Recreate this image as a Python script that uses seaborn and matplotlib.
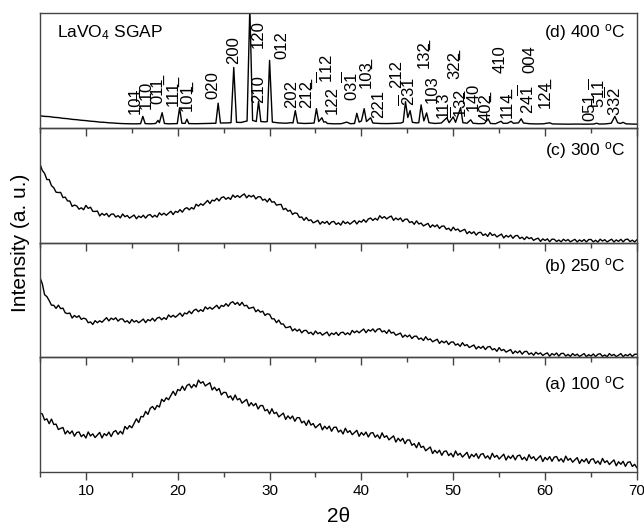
import numpy as np
import pandas as pd
import matplotlib
matplotlib.use("Agg")
import matplotlib.pyplot as plt
import seaborn as sns
from matplotlib.ticker import MultipleLocator

# ---------------- data ----------------
theta = np.round(np.arange(5.0, 70.001, 0.25), 2)   # 2theta sampling (deg)

int_300C = [68.5, 62.9, 60.3, 54.9, 54.9, 49.6, 47.8, 43.9, 43.6, 43.7, 39.2, 39.6,
            36.3, 36.2, 31.5, 32.7, 31.9, 29.1, 30.3, 28.6, 32.4, 29.8, 30.8, 27.2,
            27.1, 27.5, 23.2, 25.4, 23.8, 25.4, 22.5, 24.7, 24.9, 22.2, 23.5, 21.5,
            24.9, 22.5, 23.6, 21.3, 22.6, 24.0, 20.7, 23.1, 21.8, 23.8, 21.3, 23.8,
            24.4, 22.1, 23.8, 22.2, 25.9, 24.0, 25.6, 23.8, 25.6, 27.3, 24.4, 27.2,
            26.3, 28.7, 26.5, 29.4, 30.4, 28.5, 30.5, 29.2, 33.4, 31.8, 33.8, 32.5,
            34.6, 36.7, 34.0, 37.0, 36.3, 38.6, 36.3, 39.1, 39.9, 37.7, 39.3, 37.6,
            41.4, 39.4, 41.0, 39.3, 41.1, 42.4, 39.0, 41.2, 39.8, 41.2, 38.0, 39.9,
            39.9, 36.9, 37.8, 35.4, 38.4, 35.2, 35.6, 32.6, 33.1, 33.3, 28.7, 29.8,
            27.3, 28.2, 24.5, 25.9, 25.4, 21.9, 22.3, 19.4, 21.9, 19.1, 19.8, 17.2,
            18.1, 19.4, 16.0, 18.2, 16.8, 18.5, 15.7, 18.0, 18.4, 15.8, 17.2, 15.2,
            18.7, 16.5, 17.9, 16.0, 17.6, 19.2, 16.2, 18.8, 17.8, 20.0, 17.7, 20.5,
            21.4, 19.3, 21.1, 19.6, 23.4, 21.2, 22.6, 20.6, 22.1, 23.1, 19.4, 21.4,
            19.8, 21.4, 18.3, 20.3, 20.4, 17.4, 18.3, 15.9, 18.9, 16.2, 17.0, 14.5,
            15.6, 16.7, 13.2, 15.4, 13.8, 15.4, 12.3, 14.3, 14.4, 11.5, 12.5, 10.2,
            13.4, 10.8, 11.8, 9.5, 10.6, 11.5, 7.7, 9.6, 7.8, 9.4, 6.5, 8.7,
            8.9, 6.2, 7.5, 5.4, 8.7, 6.2, 7.2, 4.9, 6.1, 7.4, 4.0, 6.2,
            4.8, 6.5, 3.7, 5.9, 6.2, 3.5, 4.7, 2.6, 5.0, 3.4, 4.3, 1.9,
            3.1, 3.8, 1.0, 3.2, 1.8, 3.2, 0.7, 3.0, 2.8, 0.9, 2.2, 0.6,
            2.9, 1.4, 2.6, 0.6, 1.8, 2.8, 0.5, 2.3, 1.0, 2.6, 0.5, 2.6,
            2.7, 0.6, 2.0, 0.4, 2.9, 1.3, 2.5, 0.5, 1.8, 2.9, 0.5, 2.3,
            1.0, 2.8, 0.6, 2.6, 3.0, 0.8, 2.1, 0.5, 2.5]

int_250C = [69.3, 64.2, 54.5, 52.9, 49.4, 45.4, 45.3, 42.6, 45.4, 42.4, 42.8, 38.7,
            38.1, 38.5, 34.2, 36.4, 34.8, 36.2, 33.0, 34.1, 33.4, 30.1, 30.8, 28.6,
            31.9, 30.1, 31.8, 30.5, 32.6, 34.5, 31.7, 34.1, 32.8, 34.4, 31.5, 33.4,
            33.4, 30.7, 31.8, 29.6, 32.9, 30.7, 32.0, 30.1, 31.6, 33.3, 30.2, 32.8,
            31.8, 34.0, 31.5, 34.1, 34.9, 32.7, 34.5, 33.0, 36.9, 35.0, 36.6, 34.9,
            36.6, 38.5, 35.7, 38.6, 37.8, 40.2, 38.0, 40.9, 41.9, 39.7, 41.5, 40.0,
            43.9, 42.0, 43.6, 41.9, 43.6, 45.3, 42.4, 45.2, 44.3, 46.7, 44.5, 47.4,
            48.4, 46.1, 47.8, 45.2, 47.9, 44.8, 45.3, 42.5, 43.1, 43.7, 39.7, 41.4,
            39.3, 40.2, 36.5, 37.9, 37.4, 33.5, 33.5, 30.2, 32.4, 29.0, 29.0, 25.8,
            26.1, 26.9, 23.0, 24.8, 22.8, 24.4, 21.3, 23.3, 23.4, 20.7, 21.8, 19.6,
            22.9, 20.5, 21.6, 19.3, 20.6, 22.0, 18.7, 21.1, 19.8, 21.7, 19.0, 21.4,
            21.9, 19.7, 21.3, 19.6, 23.4, 21.4, 23.0, 21.3, 23.1, 24.6, 21.4, 24.0,
            22.8, 24.7, 22.0, 24.4, 24.9, 22.1, 23.1, 20.8, 23.9, 21.1, 21.8, 19.2,
            20.1, 21.1, 17.4, 19.4, 17.8, 19.4, 16.3, 18.3, 18.4, 15.7, 16.8, 14.6,
            17.9, 15.2, 16.0, 13.5, 14.6, 15.7, 12.1, 14.2, 12.6, 14.2, 11.1, 13.2,
            13.4, 10.6, 11.7, 9.5, 12.7, 10.1, 11.0, 8.5, 9.6, 10.7, 7.2, 9.4,
            7.8, 9.6, 6.7, 9.0, 9.4, 6.5, 7.5, 5.2, 8.4, 5.8, 6.8, 4.5,
            5.6, 6.7, 3.2, 5.4, 3.8, 5.6, 2.7, 4.9, 5.2, 2.5, 3.8, 1.8,
            4.4, 2.7, 3.8, 1.6, 2.9, 3.8, 0.9, 3.2, 1.9, 3.7, 1.0, 3.3,
            3.4, 1.1, 2.5, 0.8, 3.2, 1.5, 2.7, 0.7, 1.9, 3.2, 0.5, 2.3,
            1.0, 2.9, 0.6, 2.6, 3.1, 0.8, 2.0, 0.5, 3.2, 1.4, 2.5, 0.6,
            1.8, 3.2, 0.5, 2.3, 1.3, 2.9, 0.7, 2.6, 2.7]

int_100C = [51.4, 50.6, 45.3, 46.3, 42.1, 46.1, 41.4, 41.7, 37.0, 38.0, 38.8, 33.1,
            35.9, 33.4, 35.8, 31.2, 34.4, 34.9, 30.8, 32.7, 29.6, 34.9, 31.4, 33.2,
            30.0, 32.3, 34.5, 29.7, 33.4, 31.7, 34.8, 30.9, 34.9, 36.1, 32.8, 35.5,
            33.1, 39.7, 37.4, 40.4, 38.5, 42.4, 46.3, 43.1, 48.4, 48.1, 52.8, 50.2,
            55.4, 57.1, 54.3, 58.0, 56.6, 63.4, 61.4, 64.7, 63.0, 66.7, 70.3, 66.8,
            71.9, 70.9, 74.8, 71.2, 75.4, 76.6, 73.3, 76.3, 74.1, 80.1, 77.4, 78.7,
            75.0, 76.4, 77.8, 71.5, 73.9, 70.9, 72.8, 67.2, 69.4, 69.3, 64.8, 66.3,
            62.6, 67.1, 62.9, 64.0, 60.0, 61.7, 63.3, 57.5, 60.4, 57.7, 59.8, 54.9,
            57.9, 57.9, 53.3, 54.5, 50.6, 55.1, 50.9, 52.0, 48.0, 49.7, 51.3, 45.8,
            48.9, 46.4, 48.8, 44.2, 47.4, 47.3, 42.8, 44.3, 40.6, 45.1, 40.9, 42.2,
            38.5, 40.4, 42.1, 36.7, 39.9, 37.5, 40.0, 35.5, 38.9, 39.1, 34.8, 36.5,
            33.1, 38.1, 34.4, 36.0, 32.5, 34.4, 36.3, 31.1, 34.4, 32.1, 34.8, 30.5,
            33.9, 34.3, 30.3, 32.3, 29.1, 34.1, 30.2, 31.6, 28.0, 29.8, 31.5, 26.1,
            29.4, 26.9, 29.3, 24.7, 27.9, 27.9, 23.3, 24.7, 21.1, 25.7, 21.4, 22.4,
            18.5, 20.2, 21.8, 16.1, 18.9, 16.5, 19.0, 14.5, 17.9, 18.3, 14.3, 16.3,
            13.1, 18.3, 14.6, 16.3, 13.0, 15.1, 17.1, 11.9, 15.4, 13.3, 16.0, 11.8,
            15.4, 16.0, 12.1, 14.1, 11.1, 16.3, 12.8, 14.5, 11.3, 13.4, 15.5, 10.4,
            13.9, 11.8, 14.6, 10.5, 14.1, 14.7, 10.8, 12.9, 9.9, 15.1, 11.6, 13.3,
            10.0, 12.2, 14.2, 9.1, 12.7, 10.6, 13.4, 9.3, 12.9, 13.5, 9.5, 11.6,
            8.6, 13.8, 10.2, 11.8, 8.5, 10.6, 12.5, 7.4, 10.9, 8.8, 11.6, 7.3,
            10.9, 11.5, 7.5, 9.6, 6.6, 11.8, 8.2, 9.8, 6.5, 8.6, 10.5, 5.4,
            8.9, 6.7, 9.3, 4.9, 8.4, 8.9, 4.8, 6.7, 3.6]

# 400 C crystalline pattern: (2theta, intensity) points
d_theta = [5.0, 5.5, 6.0, 6.5, 7.0, 7.5, 8.0, 8.5, 9.0, 9.5, 10.0, 10.5, 11.0, 11.5,
           12.0, 12.5, 13.0, 13.5, 14.0, 14.5, 15.0, 15.5,
           15.95, 16.2, 16.45, 17.0, 17.6, 17.85, 18.0, 18.3, 18.55, 19.0, 19.5,
           19.95, 20.2, 20.45, 20.8, 21.0, 21.2, 22.0, 23.0, 23.9,
           24.15, 24.4, 24.65, 25.3, 25.8, 26.1, 26.4, 26.9, 27.3,
           27.55, 27.85, 28.15, 28.55, 28.8, 29.05, 29.5, 29.75, 30.0, 30.3,
           31.0, 31.8, 32.3, 32.55, 32.8, 33.05, 33.8, 34.5,
           34.85, 35.1, 35.35, 35.7, 35.9, 36.1, 36.3, 37.0, 37.8, 38.4, 38.8,
           39.25, 39.5, 39.75, 40.0, 40.3, 40.55, 41.0, 41.25,
           42.0, 42.8, 43.6, 44.3, 44.55, 44.8, 45.05, 45.3, 45.55,
           46.0, 46.25, 46.5, 46.8, 47.1, 47.35,
           48.0, 48.7, 49.3, 49.55, 50.0, 50.25, 50.8, 51.05, 51.5, 51.9, 52.15,
           52.8, 53.4, 53.8, 54.05, 54.6, 55.2, 55.45, 55.9, 56.3, 56.55, 57.1, 57.4, 57.65,
           58.3, 59.0, 59.8, 60.5, 60.8, 61.5, 62.5, 63.5, 64.5, 65.3, 65.6, 65.9,
           66.5, 67.2, 67.6, 67.9, 68.2, 68.5, 68.8, 69.4, 70.0]
d_int = [10.5, 10.0, 9.8, 9.2, 8.9, 8.3, 8.0, 7.4, 7.1, 6.6, 6.3, 5.8, 5.5, 5.0,
         4.8, 4.4, 4.2, 3.9, 3.7, 3.6, 3.5, 3.5,
         3.6, 10.0, 3.7, 3.5, 3.8, 6.5, 4.5, 13.2, 3.8, 3.5, 3.6,
         3.7, 17.5, 4.0, 3.9, 7.5, 3.7, 3.6, 3.8, 3.9,
         4.0, 21.5, 4.2, 4.3, 4.5, 52.6, 4.8, 4.7, 5.5,
         6.0, 105.0, 6.5, 5.5, 23.0, 5.5, 5.2, 5.5, 58.8, 5.0,
         4.3, 4.0, 4.5, 4.3, 15.0, 4.2, 3.8, 4.0,
         4.2, 16.7, 5.5, 8.8, 5.0, 5.3, 3.8, 3.5, 3.6, 5.0, 3.6,
         3.8, 12.7, 5.0, 6.0, 16.7, 5.5, 8.8, 4.2,
         3.8, 3.7, 3.9, 4.2, 5.0, 22.8, 9.0, 15.0, 4.8,
         4.3, 4.5, 20.0, 6.0, 13.0, 4.5,
         3.8, 4.2, 8.8, 4.5, 9.6, 4.8, 17.5, 4.5, 4.0, 7.0, 4.0,
         3.6, 3.8, 7.9, 3.8, 3.6, 5.7, 3.9, 4.0, 5.7, 4.0, 4.3, 7.9, 4.2,
         3.6, 3.4, 3.5, 4.4, 3.4, 3.3, 3.2, 3.3, 3.2, 3.3, 4.0, 3.3,
         3.4, 4.0, 10.0, 4.5, 3.8, 4.8, 3.5, 3.3, 3.2]

# Miller indices; bar_pos = index of the digit carrying a bar, bar_kind: 'o' over, 'u' under
peak_labels = ["101", "110", "011", "111", "101", "020", "200", "210", "120", "012",
               "202", "212", "112", "122", "031", "103", "221", "212", "231", "132",
               "103", "113", "322", "132", "140", "402", "410", "114", "241", "004",
               "124", "051", "511", "332"]
bar_pos = [-1, 1, 2, 2, 2, -1, -1, -1, -1, -1,
           -1, 2, 0, -1, 2, 2, -1, -1, 0, 2,
           -1, -1, 2, 0, 1, 2, -1, 2, 2, -1,
           2, -1, 2, 2]
bar_kind = ["", "o", "u", "u", "u", "", "", "", "", "",
            "", "u", "o", "", "o", "u", "", "", "o", "u",
            "", "", "u", "o", "o", "u", "", "u", "o", "",
            "u", "", "o", "o"]
peak_label_theta = [15.2, 16.6, 17.7, 19.4, 20.9, 23.7, 25.9, 28.6, 28.6, 31.2,
                    32.2, 33.9, 36.2, 36.7, 39.0, 40.4, 41.7, 43.7, 45.2, 46.7,
                    47.5, 48.8, 50.0, 50.8, 52.3, 53.4, 54.9, 55.7, 58.1, 58.2,
                    59.9, 64.7, 65.9, 67.6]
peak_label_level = [12.3, 14.9, 21.0, 19.3, 14.9, 25.4, 56.0, 22.0, 70.0, 59.6,
                    17.5, 17.5, 39.5, 12.3, 23.7, 35.0, 8.8, 35.0, 19.3, 51.8,
                    22.0, 8.8, 43.0, 8.8, 13.2, 6.1, 48.0, 8.8, 12.3, 47.4,
                    17.5, 6.1, 17.5, 10.5]

panel_titles = ["(d) 400 $^{\\mathrm{o}}$C", "(c) 300 $^{\\mathrm{o}}$C",
                "(b) 250 $^{\\mathrm{o}}$C", "(a) 100 $^{\\mathrm{o}}$C"]
sample_name = "LaVO$_4$ SGAP"
x_ticks = [10, 20, 30, 40, 50, 60, 70]

for arr in (int_300C, int_250C, int_100C):
    assert len(arr) == len(theta), (len(arr), len(theta))
assert len(d_theta) == len(d_int), (len(d_theta), len(d_int))

# ---------------- style ----------------
sns.set_theme(style="ticks")
plt.rcParams["font.family"] = ["Liberation Sans", "DejaVu Sans"]
plt.rcParams["mathtext.fontset"] = "custom"
plt.rcParams["mathtext.rm"] = "Liberation Sans"
plt.rcParams["mathtext.it"] = "Liberation Sans:italic"
plt.rcParams["mathtext.bf"] = "Liberation Sans:bold"
plt.rcParams["text.color"] = "black"
plt.rcParams["axes.labelcolor"] = "black"

spine_col = "#444444"

fig = plt.figure(figsize=(6.44, 5.25), dpi=100)
gs = fig.add_gridspec(4, 1, left=0.0621, right=0.989, top=0.975, bottom=0.101, hspace=0)
axes = [fig.add_subplot(gs[i]) for i in range(4)]

frames = [
    pd.DataFrame({"theta": d_theta, "I": d_int}),
    pd.DataFrame({"theta": theta, "I": int_300C}),
    pd.DataFrame({"theta": theta, "I": int_250C}),
    pd.DataFrame({"theta": theta, "I": int_100C}),
]
title_y = [0.83, 0.80, 0.79, 0.76]

for i, (ax, df) in enumerate(zip(axes, frames)):
    ax.set_facecolor("none")
    sns.lineplot(data=df, x="theta", y="I", ax=ax, color="black", lw=1.0,
                 estimator=None, sort=False)
    ax.set_xlim(5, 70)
    ax.set_ylim(0, 100)
    ax.set_yticks([])
    ax.set_ylabel("")
    ax.set_xlabel("")
    ax.set_xticks(x_ticks)
    ax.xaxis.set_minor_locator(MultipleLocator(5))
    ax.tick_params(axis="x", which="major", direction="out", length=6, width=1,
                   color=spine_col, labelsize=11, labelcolor="black", pad=3)
    ax.tick_params(axis="x", which="minor", direction="out", length=3.5, width=1,
                   color=spine_col)
    for s in ax.spines.values():
        s.set_color(spine_col)
        s.set_linewidth(1.0)
    if i < 3:
        ax.tick_params(axis="x", labelbottom=False)
    ax.text(0.981, title_y[i], panel_titles[i], transform=ax.transAxes,
            ha="right", va="center", fontsize=12.5, color="black")

# peak labels in top panel (rotated, anchored at baseline start)
axd = axes[0]
fs = 12
cap_off = 0.36 * fs      # points: centre the digit body on the given 2theta
digit_w = 0.556 * fs     # Liberation Sans digit advance, points
for lab, tx, lv, bp, bk in zip(peak_labels, peak_label_theta, peak_label_level,
                               bar_pos, bar_kind):
    if bk == "o":
        s = "$" + "".join(("\\overline{\\mathrm{%s}}" % c) if j == bp else ("\\mathrm{%s}" % c)
                          for j, c in enumerate(lab)) + "$"
    else:
        s = lab
    axd.annotate(s, xy=(tx, lv), xytext=(cap_off, 0), textcoords="offset points",
                 rotation=90, rotation_mode="anchor", ha="left", va="baseline",
                 fontsize=fs, color="black", annotation_clip=False)
    if bk == "u":
        axd.annotate("_", xy=(tx, lv), xytext=(cap_off, bp * digit_w),
                     textcoords="offset points", rotation=90, rotation_mode="anchor",
                     ha="left", va="baseline", fontsize=fs, color="black",
                     annotation_clip=False)

axd.text(0.028, 0.83, sample_name, transform=axd.transAxes, ha="left",
         va="center", fontsize=12.5, color="black")

axes[-1].set_xlabel("2\u03b8", fontsize=15, labelpad=6, color="black")
fig.text(21 / 644, 0.5 * (0.975 + 0.101), "Intensity (a. u.)", rotation=90,
         ha="center", va="center", fontsize=15, color="black")

fig.savefig("out.png", dpi=100, facecolor="white")
